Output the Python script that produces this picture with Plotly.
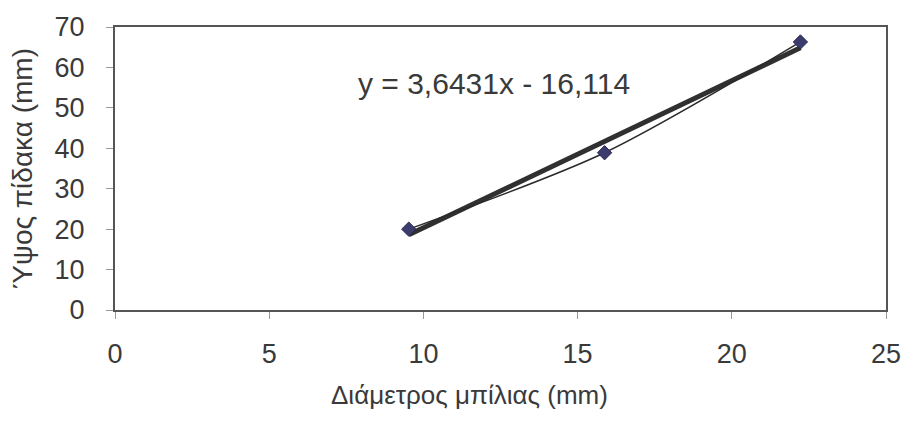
import numpy as np
import plotly.graph_objects as go

# Ball diameter (mm) and jet height (mm)
diameter_mm = [9.525, 15.875, 22.225]
jet_height_mm = [20.0, 38.9, 66.3]

# Linear trendline coefficients, as printed on the chart
slope = 3.6431
intercept = -16.114
equation_label = "y = 3,6431x - 16,114"

x_ticks = [0, 5, 10, 15, 20, 25]
y_ticks = [0, 10, 20, 30, 40, 50, 60, 70]

FONT = "Liberation Sans, Arial, sans-serif"
TXT = "#3a3a3a"

trend_x = np.array([min(diameter_mm), max(diameter_mm)])
trend_y = slope * trend_x + intercept

fig = go.Figure()
fig.add_trace(go.Scatter(
    x=trend_x, y=trend_y, mode="lines",
    line=dict(color="#303030", width=5),
    hoverinfo="skip", showlegend=False,
))
# measured points joined by a smoothed line
fig.add_trace(go.Scatter(
    x=diameter_mm, y=jet_height_mm, mode="lines+markers",
    line=dict(color="#2a2a2a", width=1.5, shape="spline", smoothing=0.8),
    marker=dict(symbol="diamond", size=11, color="#3b3b6e",
                line=dict(color="#2a2a50", width=1)),
    showlegend=False,
))

fig.add_annotation(
    x=12.3, y=56, xref="x", yref="y", text=equation_label,
    showarrow=False, font=dict(family=FONT, size=30, color=TXT),
)

# x-axis title, set slightly left of the axis centre
fig.add_annotation(
    x=0.46, y=-0.30, xref="paper", yref="paper", text="Διάμετρος μπίλιας (mm)",
    showarrow=False, xanchor="center", yanchor="middle",
    font=dict(family=FONT, size=26, color=TXT),
)

fig.update_layout(
    width=913, height=429,
    margin=dict(l=115, r=21, t=25, b=119),
    paper_bgcolor="white", plot_bgcolor="white",
    font=dict(family=FONT, color=TXT),
)
fig.update_xaxes(
    range=[0, 25], tickvals=x_ticks, ticktext=[str(v) for v in x_ticks],
    showgrid=False, zeroline=False,
    showline=True, linecolor="#555555", linewidth=2, mirror=True,
    ticks="outside", ticklen=7, tickcolor="#999999", tickwidth=1,
    tickfont=dict(family=FONT, size=27, color=TXT), ticklabelstandoff=12,
)
fig.update_yaxes(
    range=[0, 70], tickvals=y_ticks, ticktext=[str(v) for v in y_ticks],
    showgrid=False, zeroline=False,
    showline=True, linecolor="#555555", linewidth=2, mirror=True,
    ticks="outside", ticklen=7, tickcolor="#999999", tickwidth=1,
    tickfont=dict(family=FONT, size=27, color=TXT), ticklabelstandoff=16,
    title=dict(text="Ύψος πίδακα (mm)",
               font=dict(family=FONT, size=28, color=TXT), standoff=14),
)

fig.write_html("out.html")
